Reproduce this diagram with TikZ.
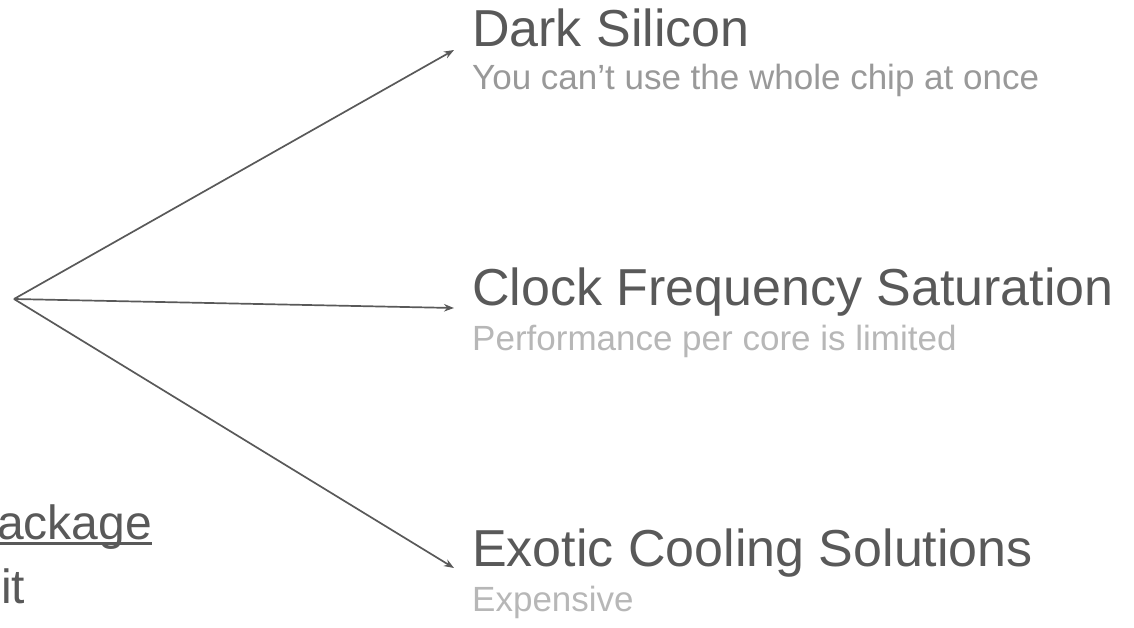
\documentclass[tikz,border=0pt]{standalone}
\usepackage{fontspec}
\setmainfont{Liberation Sans}
\usetikzlibrary{arrows.meta}
\definecolor{ink}{HTML}{595959}
\definecolor{subdark}{HTML}{999999}
\definecolor{sublight}{HTML}{B7B7B7}
\tikzset{
  heading/.style={anchor=base west, inner sep=0pt, text=ink, font=\fontsize{52}{58}\selectfont},
  subline/.style={anchor=base west, inner sep=0pt, font=\fontsize{35}{40}\selectfont},
  sidetext/.style={anchor=base west, inner sep=0pt, text=ink, font=\fontsize{48}{54}\selectfont},
  branch/.style={draw=ink, line width=1.7pt, -{Stealth[length=10pt,width=7.5pt]}},
}
\begin{document}
\begin{tikzpicture}[x=1pt,y=-1pt]
  \useasboundingbox (0,0) rectangle (1134,627);
  \clip (0,0) rectangle (1134,627);

  % fan-out point and arrow targets
  \coordinate (hub) at (14,299);
  \coordinate (t1) at (454,50);
  \coordinate (t2) at (454,308);
  \coordinate (t3) at (454,568);

  \draw[branch] (hub) -- (t1);
  \draw[branch] (hub) -- (t2);
  \draw[branch] (hub) -- (t3);

  % consequences
  \node[heading] (dark) at (472,46) {Dark Silicon};
  \node[subline, text=subdark] (darksub) at (472,89) {You can’t use the whole chip at once};

  \node[heading] (clock) at (472,305) {Clock Frequency Saturation};
  \node[subline, text=sublight] (clocksub) at (472,350) {Performance per core is limited};

  \node[heading] (cool) at (472,566) {Exotic Cooling Solutions};
  \node[subline, text=sublight] (coolsub) at (472,611) {Expensive};

  % text running in from the left edge
  \node[sidetext] (pkg) at (-3,539) {ackage};
  \draw[ink, line width=3pt] ([yshift=-4.5pt]pkg.base west) -- ([yshift=-4.5pt]pkg.base east);
  \node[sidetext] (lim) at (1,603) {it};
\end{tikzpicture}
\end{document}
